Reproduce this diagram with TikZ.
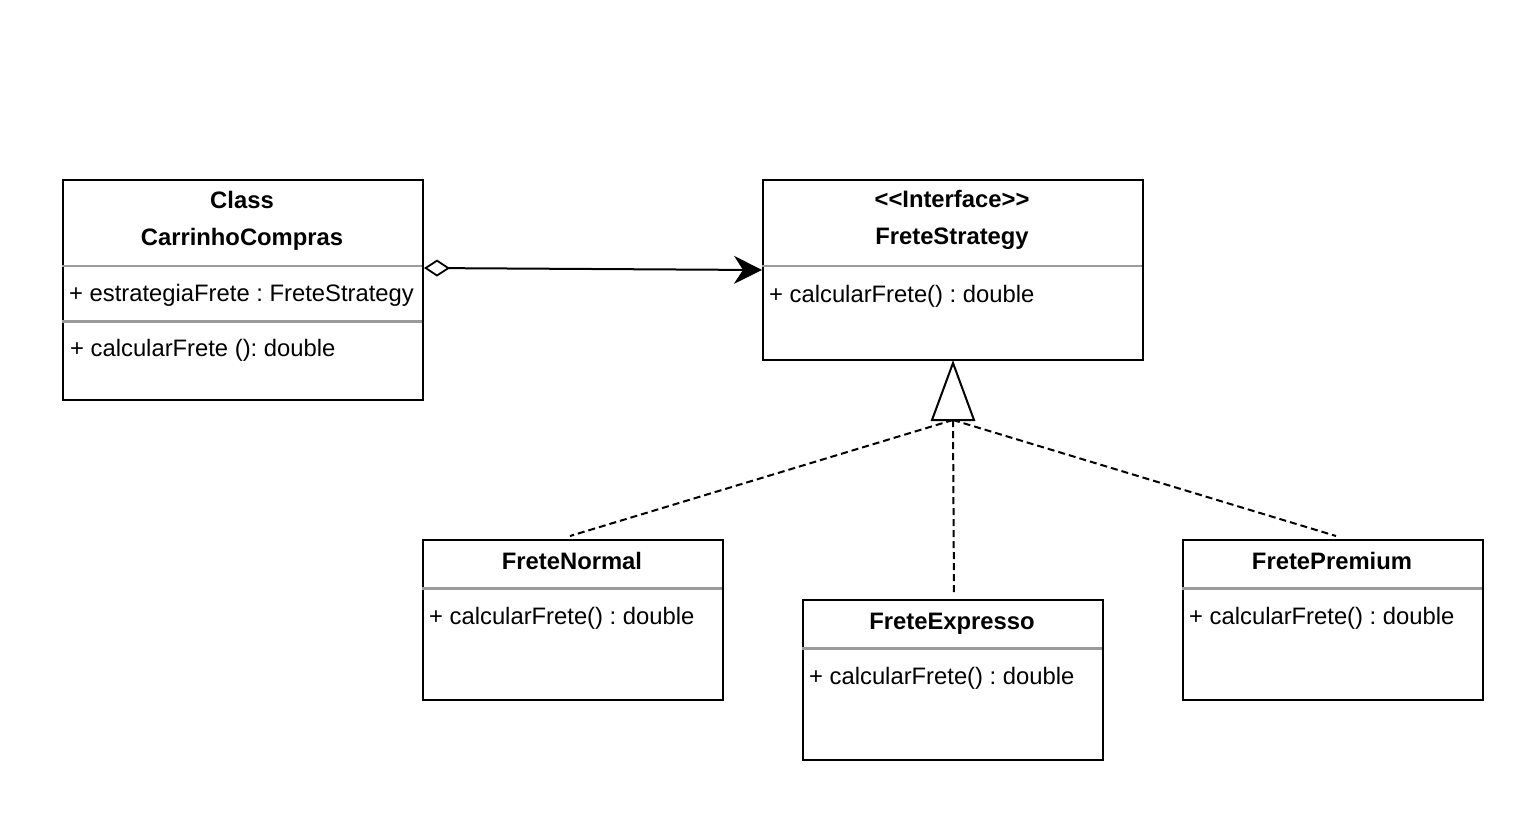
\documentclass[tikz,border=0pt]{standalone}
\usepackage{fontspec}
\setmainfont{Liberation Sans}
\usetikzlibrary{arrows.meta}
\definecolor{sepgray}{RGB}{155,155,155}
\frenchspacing
\tikzset{
  umlbox/.style={draw=black, line width=2pt, rectangle, inner sep=0pt, anchor=north west, fill=white},
  ttl/.style={font=\fontsize{23.8}{28}\selectfont\bfseries, inner sep=0pt, anchor=base},
  mem/.style={font=\fontsize{23.8}{28}\selectfont, inner sep=0pt, anchor=base west},
  sepline/.style={draw=sepgray, line width=2.2pt},
  realize/.style={line width=2pt, dash pattern=on 7pt off 4pt},
  tri/.style={line width=2pt, fill=white, line join=miter},
}
\begin{document}
\begin{tikzpicture}[x=1pt,y=-1pt]
\useasboundingbox[fill=white] (0,0) rectangle (1519,815);

% CarrinhoCompras
\node[umlbox, minimum width=360pt, minimum height=220pt] (cart) at (62,179) {};
\node[ttl] (cartA) at (242,208) {Class};
\node[ttl] (cartB) at (242,245) {CarrinhoCompras};
\draw[sepline] (62,266) -- (422,266);
\node[mem] (cartC) at (69,301) {+ estrategiaFrete : FreteStrategy};
\draw[sepline] (62,321.5) -- (422,321.5);
\node[mem] (cartD) at (70,356) {+ calcularFrete (): double};

% FreteStrategy
\node[umlbox, minimum width=380pt, minimum height=180pt] (fs) at (762,179) {};
\node[ttl] (fsA) at (952,207) {{<}{<}Interface{>}{>}};
\node[ttl] (fsB) at (952,244) {FreteStrategy};
\draw[sepline] (762,266) -- (1142,266);
\node[mem] (fsC) at (769,302) {+ calcularFrete() : double};

% FreteNormal
\node[umlbox, minimum width=300pt, minimum height=160pt] (fn) at (422,539) {};
\node[ttl] (fnA) at (572,569) {FreteNormal};
\draw[sepline] (422,588.5) -- (722,588.5);
\node[mem] (fnB) at (429,624.5) {+ calcularFrete() : double};

% FreteExpresso
\node[umlbox, minimum width=300pt, minimum height=160pt] (fe) at (802,599) {};
\node[ttl] (feA) at (952,629) {FreteExpresso};
\draw[sepline] (802,648.5) -- (1102,648.5);
\node[mem] (feB) at (809,684.5) {+ calcularFrete() : double};

% FretePremium
\node[umlbox, minimum width=300pt, minimum height=160pt] (fp) at (1182,539) {};
\node[ttl] (fpA) at (1332,569) {FretePremium};
\draw[sepline] (1182,588.5) -- (1482,588.5);
\node[mem] (fpB) at (1189,624.5) {+ calcularFrete() : double};

% aggregation / association
\draw[line width=2pt, {Diamond[open, length=26pt, width=17pt, line width=1.8pt]}-{Stealth[length=28pt, width=28pt, inset=9pt]}]
  ([yshift=22pt]cart.east) -- (fs.west);

% realization
\coordinate (tb) at ([yshift=-59pt]fs.south);
\draw[realize] (tb) -- ([xshift=-3pt,yshift=3pt]fn.north);
\draw[realize] (tb) -- ([xshift=1pt,yshift=5pt]fe.north);
\draw[realize] (tb) -- ([xshift=3pt,yshift=3pt]fp.north);
\draw[tri] ([yshift=-2pt]fs.south) -- ([xshift=-21pt]tb) -- ([xshift=21pt]tb) -- cycle;
\end{tikzpicture}
\end{document}
